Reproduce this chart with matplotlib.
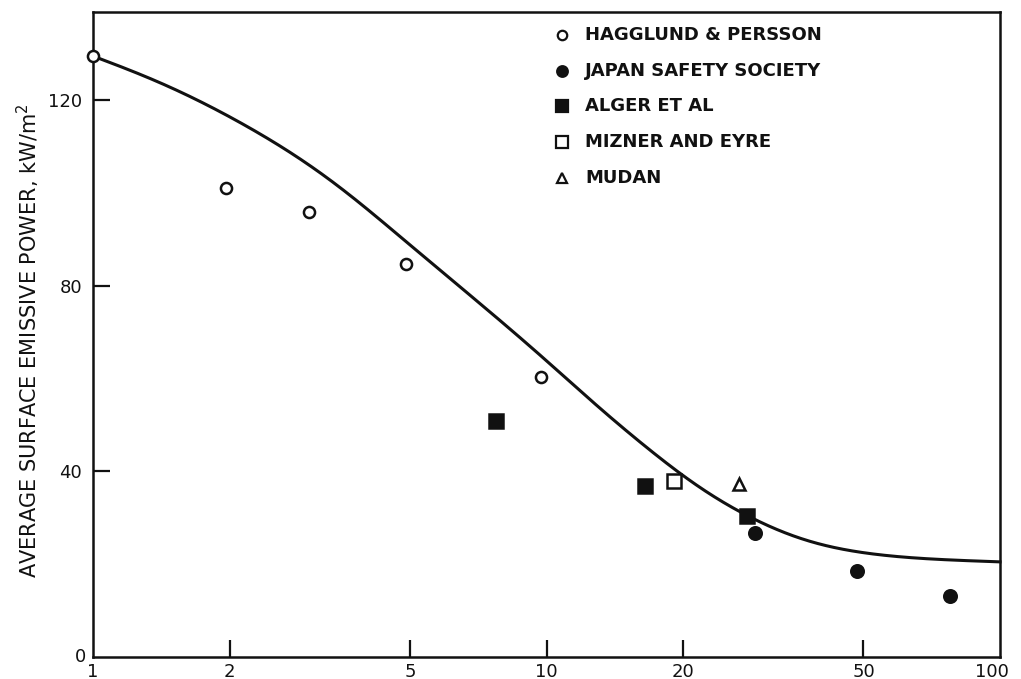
import numpy as np
import matplotlib
matplotlib.use('Agg')
import matplotlib.pyplot as plt

# ---- data (x: pool diameter, log axis; y: kW/m2) ----
hag_x = [1.0, 1.96, 3.0, 4.9, 9.7]
hag_y = [129.5, 101.1, 95.9, 84.7, 60.3]
jss_x = [28.8, 48.4, 77.6]
jss_y = [26.7, 18.5, 13.1]
alg_x = [7.74, 16.5, 27.7]
alg_y = [50.9, 36.9, 30.4]
miz_x = [19.1]
miz_y = [37.9]
mud_x = [26.6]
mud_y = [37.3]

curve_x = [1.0, 1.336, 1.721, 2.22, 2.86, 3.69, 4.75, 6.13, 7.89, 10.2, 13.1,
           16.9, 21.8, 24.1, 28.5, 33.9, 40.1, 51.7, 66.6, 100.0]
curve_y = [129.5, 125.0, 120.0, 114.2, 107.8, 100.0, 90.5, 81.6, 72.6, 63.4, 53.2,
           44.6, 35.6, 33.4, 29.5, 25.9, 23.7, 22.0, 21.1, 20.5]

x_ticks = [2, 5, 10, 20, 50]
y_ticks = [40, 80, 120]

INK = '#111111'
FS = 13

SERIES = [  # (label, x, y, marker, size, filled)
    ('HAGGLUND & PERSSON', hag_x, hag_y, 'o', 8, False),
    ('JAPAN SAFETY SOCIETY', jss_x, jss_y, 'o', 9, True),
    ('ALGER ET AL', alg_x, alg_y, 's', 10, True),
    ('MIZNER AND EYRE', miz_x, miz_y, 's', 9.5, False),
    ('MUDAN', mud_x, mud_y, '^', 9, False),
]

fig = plt.figure(figsize=(10.21, 6.79), dpi=100)
ax = fig.add_axes([93 / 1021, 22 / 679, 907 / 1021, 645 / 679])

# the drawn curve is a fair line: interpolate the read-off points in log-x,
# then gaussian-smooth out the reading noise
lx = np.linspace(0, 2, 1001)
ly = np.interp(lx, np.log10(curve_x), curve_y)
sig = 40
kern = np.exp(-0.5 * (np.arange(-3 * sig, 3 * sig + 1) / sig) ** 2)
kern /= kern.sum()
ly = np.convolve(np.pad(ly, 3 * sig, mode='reflect', reflect_type='odd'), kern, mode='valid')
ax.plot(10 ** lx, ly, color=INK, lw=2.2, zorder=2, clip_on=False)

for label, x, y, m, ms, filled in SERIES:
    ax.plot(x, y, ls='none', marker=m, ms=ms, mew=1.8, mec=INK,
            mfc=INK if filled else 'white', zorder=3, clip_on=False)

# hand-lettered key in the upper right
for i, (label, x, y, m, ms, filled) in enumerate(SERIES):
    yy = 0.964 - i * 0.0552
    ax.plot([0.517], [yy], transform=ax.transAxes, ls='none', marker=m,
            ms=ms * 0.85, mew=1.6, mec=INK, mfc=INK if filled else 'white')
    ax.text(0.5425, yy, label, transform=ax.transAxes, fontsize=FS,
            fontweight='bold', va='center', ha='left', color=INK)

ax.set_xscale('log')
ax.set_xlim(1, 100)
ax.set_ylim(0, 139)
ax.set_xticks(x_ticks)
ax.set_xticklabels([str(t) for t in x_ticks])
ax.xaxis.set_minor_locator(matplotlib.ticker.NullLocator())
ax.set_yticks(y_ticks)
ax.tick_params(direction='in', length=12, width=1.6, colors=INK,
               labelsize=FS, pad=4)
ax.tick_params(axis='y', pad=8)

# corner labels 1 / 100 / 0 sit at the spine ends
ax.annotate('1', (1, 0), xytext=(0, -4), textcoords='offset points',
            ha='center', va='top', fontsize=FS, color=INK, annotation_clip=False)
ax.annotate('100', (100, 0), xytext=(-6, -4), textcoords='offset points',
            ha='center', va='top', fontsize=FS, color=INK, annotation_clip=False)
ax.annotate('0', (1, 0), xytext=(-5, 0), textcoords='offset points',
            ha='right', va='center', fontsize=FS, color=INK, annotation_clip=False)

for s in ax.spines.values():
    s.set_linewidth(1.8)
    s.set_color(INK)

ax.set_ylabel('AVERAGE SURFACE EMISSIVE POWER, kW/m$^2$', fontsize=15, color=INK)
ax.yaxis.set_label_coords(-0.056, 0.49)

fig.savefig('out.png', dpi=100, facecolor='white')
